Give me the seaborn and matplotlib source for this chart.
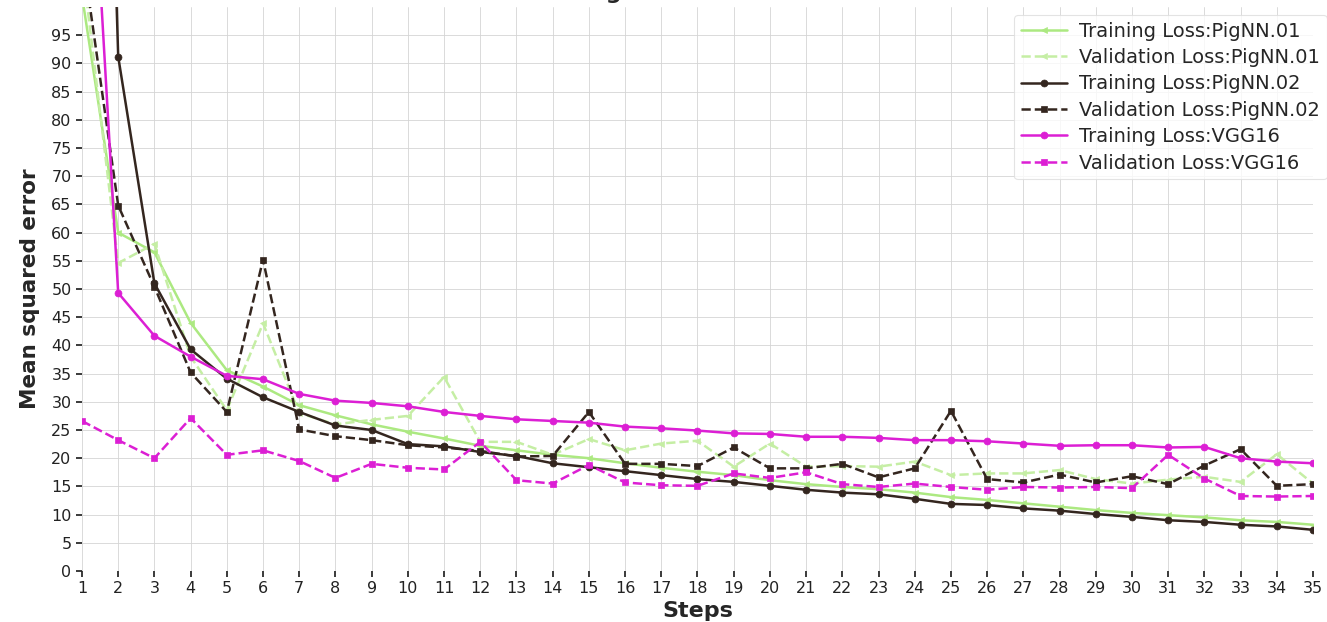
import matplotlib
matplotlib.use("Agg")
import matplotlib.pyplot as plt
import seaborn as sns
import numpy as np
import pandas as pd

steps = list(range(1, 36))

train_pignn01 = [102, 60, 56.5, 44.0, 35.6, 32.7, 29.4, 27.6, 26.0, 24.7, 23.5, 22.2, 21.4, 20.6,
                 20.0, 19.1, 18.3, 17.6, 17.0, 16.1, 15.4, 14.9, 14.5, 13.9, 13.1, 12.6, 12.0,
                 11.4, 10.8, 10.3, 9.9, 9.5, 9.0, 8.7, 8.2]
val_pignn01 = [108, 54.6, 58.0, 38.0, 28.5, 43.9, 28.0, 26.0, 26.8, 27.5, 34.4, 22.9, 22.9, 20.6,
               23.4, 21.4, 22.6, 23.1, 18.5, 22.6, 18.5, 18.6, 18.5, 19.4, 17.0, 17.3, 17.3,
               17.9, 16.3, 15.5, 16.2, 16.7, 15.8, 20.7, 15.5]
train_pignn02 = [300, 91.2, 51.0, 39.3, 34.1, 30.8, 28.2, 25.8, 25.0, 22.5, 22.1, 21.1, 20.4, 19.1,
                 18.4, 17.7, 17.0, 16.3, 15.8, 15.1, 14.4, 13.9, 13.6, 12.8, 11.9, 11.7, 11.1,
                 10.7, 10.1, 9.6, 9.0, 8.7, 8.2, 7.9, 7.3]
val_pignn02 = [110, 64.8, 50.4, 35.2, 28.2, 55.2, 25.1, 23.9, 23.2, 22.3, 21.9, 21.3, 20.3, 20.4,
               28.2, 19.0, 19.0, 18.6, 21.9, 18.2, 18.2, 19.0, 16.6, 18.2, 28.4, 16.3, 15.7,
               17.1, 15.7, 16.8, 15.4, 18.7, 21.6, 15.1, 15.4]
train_vgg16 = [160, 49.3, 41.7, 38.0, 34.6, 34.0, 31.4, 30.2, 29.8, 29.2, 28.2, 27.5, 26.9, 26.6,
               26.3, 25.6, 25.3, 24.9, 24.4, 24.3, 23.8, 23.8, 23.6, 23.2, 23.2, 23.0, 22.6,
               22.2, 22.3, 22.3, 21.9, 22.0, 20.0, 19.4, 19.1]
val_vgg16 = [26.6, 23.2, 20.0, 27.1, 20.6, 21.4, 19.5, 16.5, 19.0, 18.3, 18.0, 22.9, 16.1, 15.5,
             18.8, 15.7, 15.2, 15.1, 17.3, 16.5, 17.5, 15.4, 14.9, 15.5, 14.9, 14.4, 14.9,
             14.8, 14.9, 14.7, 20.6, 16.4, 13.3, 13.2, 13.3]

series_names = ["Training Loss:PigNN.01", "Validation Loss:PigNN.01",
                "Training Loss:PigNN.02", "Validation Loss:PigNN.02",
                "Training Loss:VGG16", "Validation Loss:VGG16"]
series_vals = [train_pignn01, val_pignn01, train_pignn02, val_pignn02, train_vgg16, val_vgg16]

green = "#ace981"
dark = "#34261f"
magenta = "#dc1fd4"
styles = [
    dict(color=green, marker="<", linestyle="-"),
    dict(color="#c5eea4", marker="<", linestyle="--"),
    dict(color=dark, marker="o", linestyle="-"),
    dict(color=dark, marker="s", linestyle="--"),
    dict(color=magenta, marker="o", linestyle="-"),
    dict(color=magenta, marker="s", linestyle="--"),
]

sns.set_theme(style="whitegrid", rc={
    "grid.color": "#d4d4d4", "grid.linewidth": 0.6, "grid.linestyle": "-",
    "xtick.bottom": True, "ytick.left": True,
    "xtick.major.size": 4, "ytick.major.size": 4,
    "xtick.color": "#222222", "ytick.color": "#222222",
})
plt.rcParams["font.family"] = ["DejaVu Sans"]

fig = plt.figure(figsize=(13.27, 6.22), dpi=100)
ax = fig.add_axes([82 / 1327, 1 - 571 / 622, (1313 - 82) / 1327, (571 - 7) / 622])

for name, vals, st in zip(series_names, series_vals, styles):
    df = pd.DataFrame({"Steps": steps, "MSE": vals})
    sns.lineplot(data=df, x="Steps", y="MSE", ax=ax, label=name, color=st["color"],
                 marker=st["marker"], linestyle=st["linestyle"], linewidth=1.8,
                 markersize=5, markeredgewidth=0.5, markeredgecolor=st["color"])

ax.set_xlim(1, 35)
ax.set_ylim(0, 100)
ax.set_xticks(steps)
ax.set_yticks(np.arange(0, 100, 5))
ax.tick_params(axis="both", labelsize=11.5, colors="#222222")
for s in ax.spines.values():
    s.set_visible(False)

ax.set_xlabel("Steps", fontsize=16, fontweight="bold", labelpad=3)
ax.set_ylabel("Mean squared error", fontsize=15.5, fontweight="bold", labelpad=8)
ax.set_title("Training and Validation Loss", fontsize=16, fontweight="bold")

leg = ax.legend(loc="upper right", bbox_to_anchor=(1.011, 0.986), borderaxespad=0,
                fontsize=14, frameon=True, handlelength=2.4, labelspacing=0.38,
                borderpad=0.35, handletextpad=0.6)
leg.get_frame().set_edgecolor("#dddddd")
leg.get_frame().set_linewidth(0.8)

fig.savefig("out.png", dpi=100)
